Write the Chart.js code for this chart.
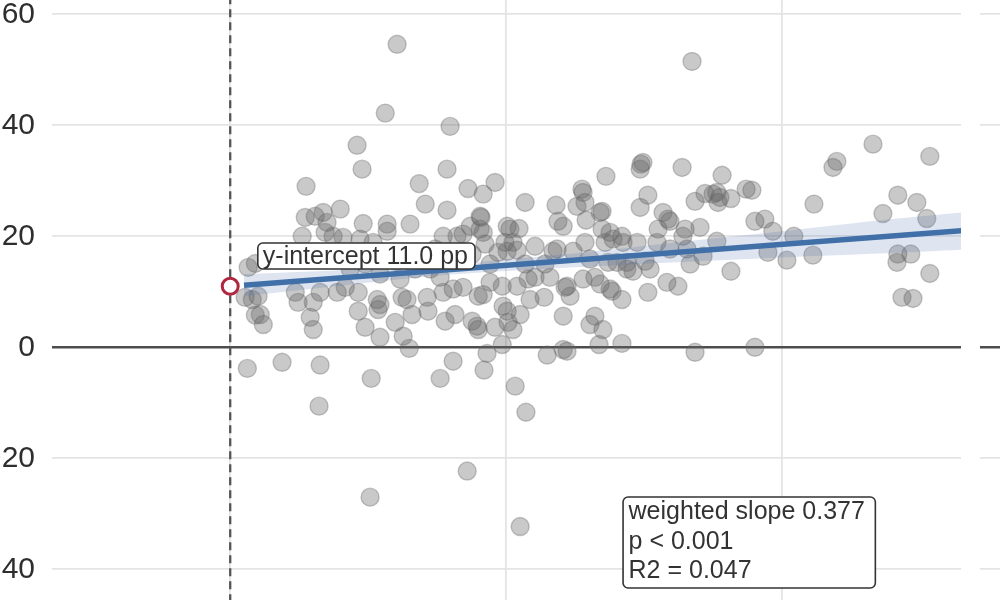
<!DOCTYPE html>
<html><head><meta charset="utf-8">
<script src="https://cdn.jsdelivr.net/npm/chart.js@4/dist/chart.umd.min.js"></script>
<style>
html,body{margin:0;padding:0;width:1000px;height:600px;overflow:hidden;background:#fff;position:relative}
#main{position:absolute;left:-60px;top:-40px}
#side{position:absolute;left:980px;top:-40px}
</style></head><body>
<canvas id="main" width="1060" height="680"></canvas>
<canvas id="side" width="100" height="680"></canvas>
<script>
// ---- data ----
const xTicks = [0, 10, 20];
const yTicks = [-40, -20, 0, 20, 40, 60];
const xRange = [-6.46, 26.49];
const yRange = [-50, 66];

const ptX = [0.62,0.54,0.80,1.01,0.91,1.09,1.20,0.91,0.65,1.88,2.36,2.46,2.61,2.72,2.75,2.90,3.01,3.01,3.26,3.26,3.22,3.08,3.37,3.51,3.44,3.73,3.88,3.99,4.09,
4.60,4.78,5.62,6.05,4.82,4.71,5.18,5.69,5.69,6.52,6.85,4.64,4.64,4.89,5.11,5.33,5.36,5.43,5.43,5.07,5.98,6.27,6.49,6.23,6.59,6.41,4.35,4.89,5.43,5.98,6.16,6.70,4.17,
7.07,7.17,7.14,7.61,8.08,8.59,7.86,7.86,7.97,8.62,9.17,9.60,8.77,8.95,8.99,7.72,8.08,8.44,7.72,8.22,8.44,8.70,9.06,9.17,7.43,7.97,8.51,7.25,7.61,6.88,8.77,8.15,7.79,
10.69,11.81,8.99,9.17,9.60,9.89,10.04,10.07,10.25,9.86,9.31,9.20,10.33,10.72,10.51,9.09,9.06,10.04,10.14,10.47,9.96,10.25,9.71,10.04,10.40,11.05,11.70,11.85,9.42,9.86,10.40,10.80,11.05,11.59,11.38,12.07,11.49,12.07,12.21,12.32,12.14,12.21,11.88,12.07,9.42,10.69,11.41,9.24,10.87,10.51,
12.75,12.79,12.57,12.86,13.62,14.89,14.96,14.86,15.14,14.86,12.90,13.41,13.48,13.48,13.77,12.43,12.86,13.59,13.88,14.20,14.24,14.75,12.79,13.22,13.77,14.38,14.60,15.14,13.70,14.02,14.38,13.04,13.22,13.51,13.37,14.20,13.84,14.20,13.04,13.41,15.04,
16.74,16.38,16.85,17.21,15.69,15.87,15.51,15.94,16.49,16.41,17.03,17.64,15.47,15.94,16.56,17.14,15.83,16.23,16.85,17.83,17.64,17.50,17.75,17.68,18.15,18.15,15.22,16.67,
18.70,18.91,19.02,19.38,19.67,20.43,19.49,20.18,21.12,21.16,19.02,21.99,21.85,23.30,25.36,24.20,24.89,23.66,25.25,24.20,24.17,24.67,25.36,24.35,24.75];
const ptY = [-3.8,9.0,8.6,9.2,5.8,5.9,4.1,15.1,14.4,-2.7,9.9,8.1,20.0,23.4,29.0,5.4,3.2,8.1,9.9,-3.2,-10.6,23.6,24.3,22.5,20.7,20.0,9.9,24.9,19.8,
36.4,32.1,42.2,54.6,22.3,19.5,18.9,22.2,20.9,22.2,29.5,9.9,6.5,3.6,-5.6,8.6,6.8,7.7,1.8,-27.0,4.5,2.0,-0.2,9.0,5.9,8.6,14.1,15.0,13.2,15.5,12.3,14.1,10.8,
25.8,6.5,9.0,-5.6,-2.5,-22.3,32.1,24.7,39.8,28.6,27.6,29.7,4.7,3.8,9.2,9.9,10.5,10.8,20.0,20.0,20.4,21.8,23.6,20.7,17.7,16.8,15.5,14.1,12.6,16.8,16.8,5.9,4.7,
26.1,25.6,3.2,9.5,3.6,7.4,6.5,4.5,3.2,0.5,-1.1,-4.1,-7.0,-11.7,-32.3,23.4,21.3,21.8,21.3,21.4,18.9,18.9,17.1,17.3,17.5,18.2,17.3,17.7,11.7,11.0,11.0,12.3,12.6,12.6,9.0,5.6,-1.4,-0.4,-0.7,9.2,10.8,11.0,22.7,21.8,15.0,15.0,15.0,18.6,8.6,5.9,
28.5,27.9,25.4,26.1,30.8,33.0,33.3,32.1,27.4,25.2,22.9,24.3,24.5,21.3,20.7,17.3,18.9,18.9,19.5,20.0,18.9,18.9,12.3,12.6,10.5,14.1,13.7,9.9,15.3,15.3,15.3,4.1,5.6,3.2,0.5,0.7,10.1,8.6,15.9,11.4,15.5,
51.5,32.4,26.3,27.7,24.3,23.1,21.3,22.7,21.3,20.0,21.6,19.1,18.9,17.7,17.7,16.4,11.7,11.0,-0.9,31.0,27.9,27.6,27.0,26.1,26.8,13.7,14.1,15.0,
28.5,28.3,22.7,23.1,20.9,20.0,17.1,15.7,16.6,25.8,0.0,33.5,32.4,36.6,34.4,27.4,26.1,24.1,23.2,16.8,15.3,16.8,13.3,9.0,8.8];

const fitX = [0.5, 26.5];
const fitY = [11.19, 20.99];
const bandX = [0.5, 4, 8, 12, 16, 20, 24, 26.5];
const bandUpper = [13.2, 13.9, 15.0, 16.7, 18.8, 20.9, 23.1, 24.3];
const bandLower = [9.2, 11.1, 13.1, 14.3, 15.3, 16.2, 17.0, 17.6];
const interceptX = [0];
const interceptY = [11.0];
const refLineX = [0, 0];
const refLineY = [-60, 80];
const interceptLabelPos = [1.0, 16.45];
const statsPos = [14.24, -26.97];
const statsLines = ['weighted slope 0.377', 'p < 0.001', 'R2 = 0.047'];

// ---- helpers ----
const FONT = '"Liberation Sans", Arial, Helvetica, sans-serif';
const pts = (xs, ys) => xs.map((v, i) => ({x: v, y: ys[i]}));
const setTicks = arr => s => { s.ticks = arr.map(v => ({value: v})); };
const gridColor = c => (c.tick && c.tick.value === 0) ? '#4d4d4d' : '#e4e4e4';
const gridWidth = c => (c.tick && c.tick.value === 0) ? 2.6 : 1.8;

function rbox(ctx, x, y, w, h) {
  ctx.beginPath();
  ctx.roundRect(x, y, w, h, 5);
  ctx.fillStyle = '#ffffff';
  ctx.fill();
  ctx.lineWidth = 1.6;
  ctx.strokeStyle = '#333333';
  ctx.stroke();
}

const annotations = {
  id: 'annotations',
  afterDatasetsDraw(chart) {
    const {ctx, scales} = chart;
    const sx = scales.x, sy = scales.y;
    ctx.save();
    ctx.font = '25px ' + FONT;
    ctx.textBaseline = 'alphabetic';
    ctx.textAlign = 'left';
    const t = 'y-intercept ' + interceptY[0].toFixed(1) + ' pp';
    const w = ctx.measureText(t).width;
    const bx = sx.getPixelForValue(interceptLabelPos[0]);
    const cy = sy.getPixelForValue(interceptLabelPos[1]);
    rbox(ctx, bx, cy - 13, w + 12, 26);
    ctx.fillStyle = '#333333';
    ctx.fillText(t, bx + 5, cy + 8);
    const sx0 = sx.getPixelForValue(statsPos[0]);
    const sy0 = sy.getPixelForValue(statsPos[1]);
    const mw = Math.max(...statsLines.map(s => ctx.measureText(s).width));
    rbox(ctx, sx0, sy0, mw + 16, 91);
    ctx.fillStyle = '#333333';
    statsLines.forEach((s, i) => ctx.fillText(s, sx0 + 5.5, sy0 + 22.5 + i * 29.5));
    ctx.restore();
  }
};

const yScaleBase = {
  type: 'linear', position: 'left', min: yRange[0], max: yRange[1],
  afterBuildTicks: setTicks(yTicks),
  grid: {color: gridColor, lineWidth: gridWidth, drawTicks: false},
  border: {display: false}
};

new Chart(document.getElementById('main'), {
  type: 'scatter',
  data: {
    datasets: [
      {type: 'scatter', data: pts(ptX, ptY), pointRadius: 9, pointHoverRadius: 9, borderWidth: 1.4,
       backgroundColor: 'rgba(100,100,100,0.35)', borderColor: 'rgba(100,100,100,0.35)', order: 6},
      {type: 'line', data: pts(bandX, bandUpper), borderWidth: 0, pointRadius: 0, fill: '+1',
       backgroundColor: 'rgba(70,110,170,0.18)', borderColor: 'rgba(0,0,0,0)', tension: 0.3, order: 5},
      {type: 'line', data: pts(bandX, bandLower), borderWidth: 0, pointRadius: 0, fill: false,
       borderColor: 'rgba(0,0,0,0)', tension: 0.3, order: 5},
      {type: 'line', data: pts(fitX, fitY), borderColor: '#4170a8', borderWidth: 5.5, pointRadius: 0,
       fill: false, borderCapStyle: 'butt', order: 3},
      {type: 'line', data: pts(refLineX, refLineY), borderColor: '#555555', borderWidth: 2.3,
       borderDash: [8, 5], pointRadius: 0, fill: false, order: 2},
      {type: 'scatter', data: pts(interceptX, interceptY), pointRadius: 8, borderWidth: 3,
       borderColor: '#b0283f', backgroundColor: '#ffffff', order: 1}
    ]
  },
  options: {
    responsive: false, animation: false, devicePixelRatio: 1,
    layout: {padding: {left: 0, right: 39, top: 21, bottom: 15.2}},
    plugins: {legend: {display: false}, tooltip: {enabled: false}},
    scales: {
      x: {type: 'linear', position: 'bottom', min: xRange[0], max: xRange[1],
          afterBuildTicks: setTicks(xTicks),
          afterFit: s => { s.height = 0; s.paddingLeft = 0; s.paddingRight = 0; },
          ticks: {display: false},
          grid: {color: '#e4e4e4', lineWidth: 1.8, drawTicks: false},
          border: {display: false}},
      y: Object.assign({}, yScaleBase, {
          afterFit: s => { s.width = 112; s.paddingTop = 0; s.paddingBottom = 0; },
          ticks: {font: {family: FONT, size: 30}, color: '#2e2e2e', padding: 17,
                  callback: v => (v < 0 ? '\u2212' + Math.abs(v) : String(v))}})
    }
  },
  plugins: [annotations]
});

new Chart(document.getElementById('side'), {
  type: 'scatter',
  data: {datasets: []},
  options: {
    responsive: false, animation: false, devicePixelRatio: 1,
    layout: {padding: {left: 0, right: 0, top: 21, bottom: 15.2}},
    plugins: {legend: {display: false}, tooltip: {enabled: false}},
    scales: {
      x: {type: 'linear', display: false, min: 0, max: 1},
      y: Object.assign({}, yScaleBase, {
          afterFit: s => { s.width = 0; s.paddingTop = 0; s.paddingBottom = 0; },
          ticks: {display: false}})
    }
  }
});
</script>
</body></html>
